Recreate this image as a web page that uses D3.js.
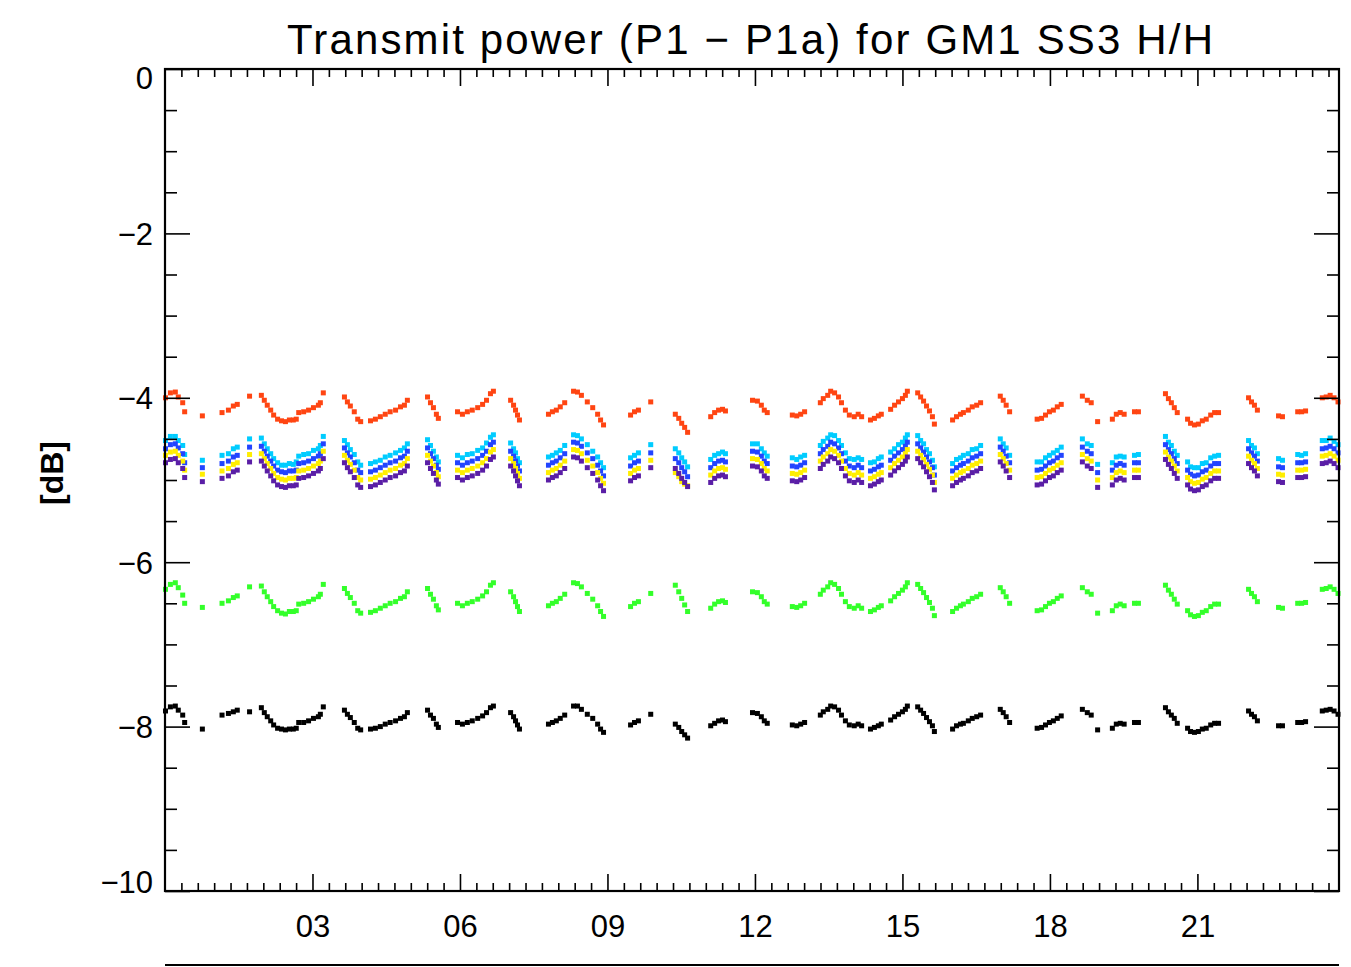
<!DOCTYPE html>
<html><head><meta charset="utf-8">
<script src="https://cdn.jsdelivr.net/npm/d3@7"></script>
<style>body{margin:0;background:#fff;overflow:hidden}</style>
</head><body><svg id="c" width="1351" height="967"></svg>
<script>
// time of day, hours
const hours = [
0.01,0.11,0.21,0.27,0.36,0.40,0.76,1.16,1.29,1.39,
1.47,1.72,1.96,2.02,2.08,2.15,2.21,2.29,2.37,2.45,
2.53,2.61,2.67,2.72,2.82,2.92,3.02,3.12,3.16,3.22,
3.65,3.71,3.77,3.85,3.92,3.98,4.18,4.28,4.38,4.48,
4.58,4.69,4.79,4.87,4.93,5.34,5.40,5.46,5.52,5.56,
5.95,6.05,6.15,6.25,6.36,6.46,6.54,6.62,6.68,7.03,
7.09,7.13,7.17,7.21,7.80,7.88,7.96,8.04,8.13,8.31,
8.39,8.47,8.59,8.70,8.80,8.86,8.92,9.47,9.55,9.63,
9.88,10.38,10.45,10.51,10.57,10.63,11.10,11.18,11.26,11.34,
11.40,11.95,12.05,12.13,12.19,12.25,12.76,12.85,12.93,13.01,
13.33,13.39,13.48,13.54,13.62,13.70,13.76,13.84,13.92,14.02,
14.10,14.17,14.35,14.43,14.51,14.57,14.76,14.84,14.92,15.00,
15.06,15.10,15.31,15.37,15.43,15.49,15.55,15.61,15.65,16.02,
16.10,16.18,16.24,16.34,16.42,16.51,16.59,16.99,17.05,17.11,
17.18,17.74,17.83,17.91,17.99,18.07,18.15,18.23,18.66,18.76,
18.84,18.97,19.27,19.35,19.43,19.51,19.72,19.80,20.35,20.41,
20.47,20.53,20.59,20.80,20.86,20.94,21.02,21.10,21.18,21.27,
21.35,21.43,22.04,22.10,22.16,22.22,22.65,22.73,23.04,23.12,
23.20,23.54,23.62,23.70,23.78,23.86];

const redValues = [
-4.00,-3.94,-3.93,-3.99,-4.06,-4.17,-4.22,-4.18,-4.15,-4.10,
-4.08,-3.98,-3.97,-4.03,-4.09,-4.15,-4.21,-4.26,-4.28,-4.29,
-4.27,-4.27,-4.26,-4.18,-4.17,-4.15,-4.12,-4.09,-4.06,-3.94,
-3.99,-4.05,-4.10,-4.17,-4.26,-4.29,-4.28,-4.26,-4.23,-4.20,
-4.17,-4.15,-4.11,-4.09,-4.03,-3.99,-4.06,-4.12,-4.20,-4.25,
-4.17,-4.20,-4.17,-4.15,-4.12,-4.08,-4.03,-3.95,-3.92,-4.03,
-4.09,-4.15,-4.21,-4.27,-4.20,-4.17,-4.15,-4.11,-4.06,-3.92,
-3.93,-3.97,-4.05,-4.12,-4.20,-4.27,-4.33,-4.21,-4.17,-4.15,
-4.05,-4.20,-4.25,-4.31,-4.36,-4.42,-4.23,-4.18,-4.15,-4.14,
-4.16,-4.03,-4.04,-4.09,-4.15,-4.18,-4.21,-4.22,-4.20,-4.17,
-4.06,-4.01,-3.97,-3.92,-3.94,-3.99,-4.06,-4.15,-4.21,-4.23,
-4.20,-4.23,-4.27,-4.25,-4.22,-4.20,-4.14,-4.09,-4.05,-4.01,
-3.97,-3.92,-3.94,-3.99,-4.04,-4.10,-4.16,-4.23,-4.32,-4.27,
-4.23,-4.20,-4.18,-4.15,-4.11,-4.09,-4.06,-3.98,-4.03,-4.09,
-4.17,-4.26,-4.25,-4.21,-4.17,-4.15,-4.11,-4.08,-3.98,-4.03,
-4.06,-4.29,-4.26,-4.20,-4.18,-4.20,-4.17,-4.17,-3.95,-4.01,
-4.06,-4.12,-4.18,-4.26,-4.31,-4.33,-4.32,-4.28,-4.26,-4.21,
-4.18,-4.18,-4.00,-4.05,-4.09,-4.15,-4.22,-4.23,-4.17,-4.17,
-4.16,-4.00,-3.99,-3.97,-4.00,-4.05];

const cyanValues = [
-4.52,-4.47,-4.47,-4.52,-4.58,-4.69,-4.76,-4.70,-4.68,-4.62,
-4.60,-4.50,-4.49,-4.56,-4.62,-4.68,-4.74,-4.79,-4.82,-4.82,
-4.80,-4.81,-4.78,-4.71,-4.69,-4.68,-4.64,-4.62,-4.58,-4.47,
-4.52,-4.57,-4.63,-4.69,-4.78,-4.82,-4.80,-4.78,-4.76,-4.72,
-4.70,-4.67,-4.64,-4.61,-4.56,-4.51,-4.58,-4.65,-4.72,-4.78,
-4.70,-4.73,-4.69,-4.68,-4.64,-4.61,-4.55,-4.48,-4.45,-4.55,
-4.62,-4.67,-4.74,-4.79,-4.72,-4.70,-4.67,-4.64,-4.58,-4.45,
-4.46,-4.50,-4.57,-4.65,-4.72,-4.79,-4.85,-4.73,-4.70,-4.67,
-4.57,-4.62,-4.67,-4.73,-4.78,-4.84,-4.75,-4.70,-4.68,-4.66,
-4.68,-4.56,-4.56,-4.62,-4.67,-4.71,-4.73,-4.75,-4.72,-4.70,
-4.58,-4.53,-4.49,-4.45,-4.46,-4.52,-4.58,-4.67,-4.74,-4.75,
-4.73,-4.75,-4.79,-4.78,-4.74,-4.72,-4.66,-4.62,-4.57,-4.54,
-4.49,-4.45,-4.46,-4.52,-4.56,-4.63,-4.68,-4.76,-4.84,-4.80,
-4.75,-4.73,-4.70,-4.68,-4.63,-4.62,-4.58,-4.50,-4.56,-4.61,
-4.70,-4.78,-4.78,-4.73,-4.70,-4.67,-4.64,-4.60,-4.50,-4.56,
-4.58,-4.81,-4.79,-4.72,-4.71,-4.72,-4.70,-4.69,-4.47,-4.54,
-4.58,-4.65,-4.70,-4.78,-4.84,-4.85,-4.85,-4.80,-4.79,-4.73,
-4.71,-4.70,-4.52,-4.58,-4.61,-4.68,-4.74,-4.76,-4.69,-4.70,
-4.68,-4.52,-4.52,-4.49,-4.53,-4.57];

const blueValues = [
-4.62,-4.57,-4.56,-4.61,-4.68,-4.79,-4.85,-4.80,-4.77,-4.72,
-4.70,-4.60,-4.59,-4.65,-4.71,-4.77,-4.83,-4.88,-4.90,-4.91,
-4.89,-4.89,-4.88,-4.80,-4.79,-4.77,-4.74,-4.71,-4.68,-4.56,
-4.61,-4.67,-4.72,-4.79,-4.88,-4.91,-4.90,-4.88,-4.85,-4.82,
-4.79,-4.77,-4.73,-4.71,-4.65,-4.61,-4.68,-4.74,-4.82,-4.87,
-4.79,-4.82,-4.79,-4.77,-4.74,-4.70,-4.65,-4.57,-4.54,-4.65,
-4.71,-4.77,-4.83,-4.89,-4.82,-4.79,-4.77,-4.73,-4.68,-4.54,
-4.55,-4.59,-4.67,-4.74,-4.82,-4.89,-4.95,-4.83,-4.79,-4.77,
-4.67,-4.74,-4.79,-4.85,-4.90,-4.96,-4.85,-4.80,-4.77,-4.76,
-4.78,-4.65,-4.66,-4.71,-4.77,-4.80,-4.83,-4.84,-4.82,-4.79,
-4.68,-4.63,-4.59,-4.54,-4.56,-4.61,-4.68,-4.77,-4.83,-4.85,
-4.82,-4.85,-4.89,-4.87,-4.84,-4.82,-4.76,-4.71,-4.67,-4.63,
-4.59,-4.54,-4.56,-4.61,-4.66,-4.72,-4.78,-4.85,-4.94,-4.89,
-4.85,-4.82,-4.80,-4.77,-4.73,-4.71,-4.68,-4.60,-4.65,-4.71,
-4.79,-4.88,-4.87,-4.83,-4.79,-4.77,-4.73,-4.70,-4.60,-4.65,
-4.68,-4.91,-4.88,-4.82,-4.80,-4.82,-4.79,-4.79,-4.57,-4.63,
-4.68,-4.74,-4.80,-4.88,-4.93,-4.95,-4.94,-4.90,-4.88,-4.83,
-4.80,-4.80,-4.62,-4.67,-4.71,-4.77,-4.84,-4.85,-4.79,-4.79,
-4.78,-4.62,-4.61,-4.59,-4.62,-4.67];

const yellowValues = [
-4.70,-4.66,-4.65,-4.70,-4.77,-4.88,-4.93,-4.89,-4.86,-4.81,
-4.79,-4.69,-4.68,-4.74,-4.80,-4.86,-4.92,-4.97,-4.99,-5.00,
-4.98,-4.98,-4.97,-4.89,-4.88,-4.86,-4.83,-4.80,-4.77,-4.65,
-4.70,-4.76,-4.81,-4.88,-4.97,-5.00,-4.99,-4.97,-4.94,-4.91,
-4.88,-4.86,-4.82,-4.80,-4.74,-4.70,-4.77,-4.83,-4.91,-4.96,
-4.88,-4.91,-4.88,-4.86,-4.83,-4.79,-4.74,-4.66,-4.63,-4.74,
-4.80,-4.86,-4.92,-4.98,-4.91,-4.88,-4.86,-4.82,-4.77,-4.63,
-4.64,-4.68,-4.76,-4.83,-4.91,-4.98,-5.04,-4.92,-4.88,-4.86,
-4.76,-4.91,-4.96,-5.02,-5.05,-5.07,-4.94,-4.89,-4.86,-4.85,
-4.87,-4.74,-4.75,-4.80,-4.86,-4.89,-4.92,-4.93,-4.91,-4.88,
-4.77,-4.72,-4.68,-4.63,-4.65,-4.70,-4.77,-4.86,-4.92,-4.94,
-4.91,-4.94,-4.98,-4.96,-4.93,-4.91,-4.85,-4.80,-4.76,-4.72,
-4.68,-4.63,-4.65,-4.70,-4.75,-4.81,-4.87,-4.94,-5.03,-4.98,
-4.94,-4.91,-4.89,-4.86,-4.82,-4.80,-4.77,-4.69,-4.74,-4.80,
-4.88,-4.97,-4.96,-4.92,-4.88,-4.86,-4.82,-4.79,-4.69,-4.74,
-4.77,-5.00,-4.97,-4.91,-4.89,-4.91,-4.88,-4.88,-4.66,-4.72,
-4.77,-4.83,-4.89,-4.97,-5.02,-5.04,-5.03,-4.99,-4.97,-4.92,
-4.89,-4.89,-4.71,-4.76,-4.80,-4.86,-4.93,-4.94,-4.88,-4.88,
-4.87,-4.71,-4.70,-4.68,-4.71,-4.76];

const purpleValues = [
-4.79,-4.75,-4.74,-4.79,-4.86,-4.97,-5.02,-4.98,-4.95,-4.90,
-4.88,-4.78,-4.77,-4.83,-4.89,-4.95,-5.01,-5.06,-5.08,-5.09,
-5.07,-5.07,-5.06,-4.98,-4.97,-4.95,-4.92,-4.89,-4.86,-4.74,
-4.79,-4.85,-4.90,-4.97,-5.06,-5.09,-5.08,-5.06,-5.03,-5.00,
-4.97,-4.95,-4.91,-4.89,-4.83,-4.79,-4.86,-4.92,-5.00,-5.05,
-4.97,-5.00,-4.97,-4.95,-4.92,-4.88,-4.83,-4.75,-4.72,-4.83,
-4.89,-4.95,-5.01,-5.07,-5.00,-4.97,-4.95,-4.91,-4.86,-4.72,
-4.73,-4.77,-4.85,-4.92,-5.00,-5.07,-5.13,-5.01,-4.97,-4.95,
-4.85,-4.86,-4.92,-4.98,-5.03,-5.08,-5.03,-4.98,-4.95,-4.94,
-4.96,-4.83,-4.84,-4.89,-4.95,-4.98,-5.01,-5.02,-5.00,-4.97,
-4.86,-4.81,-4.77,-4.72,-4.74,-4.79,-4.86,-4.95,-5.01,-5.03,
-5.00,-5.03,-5.07,-5.05,-5.02,-5.00,-4.94,-4.89,-4.85,-4.81,
-4.77,-4.72,-4.74,-4.79,-4.84,-4.90,-4.96,-5.03,-5.12,-5.07,
-5.03,-5.00,-4.98,-4.95,-4.91,-4.89,-4.86,-4.78,-4.83,-4.89,
-4.97,-5.06,-5.05,-5.01,-4.97,-4.95,-4.91,-4.88,-4.78,-4.83,
-4.86,-5.09,-5.06,-5.00,-4.98,-5.00,-4.97,-4.97,-4.75,-4.81,
-4.86,-4.92,-4.98,-5.06,-5.11,-5.13,-5.12,-5.08,-5.06,-5.01,
-4.98,-4.98,-4.80,-4.85,-4.89,-4.95,-5.02,-5.03,-4.97,-4.97,
-4.96,-4.80,-4.79,-4.77,-4.80,-4.85];

const greenValues = [
-6.33,-6.27,-6.25,-6.31,-6.40,-6.50,-6.55,-6.50,-6.47,-6.43,
-6.41,-6.30,-6.29,-6.36,-6.42,-6.48,-6.54,-6.59,-6.62,-6.63,
-6.60,-6.60,-6.59,-6.51,-6.50,-6.48,-6.45,-6.42,-6.39,-6.27,
-6.32,-6.38,-6.43,-6.50,-6.59,-6.62,-6.61,-6.59,-6.56,-6.53,
-6.50,-6.48,-6.44,-6.42,-6.36,-6.32,-6.39,-6.45,-6.53,-6.58,
-6.50,-6.53,-6.50,-6.48,-6.45,-6.41,-6.36,-6.28,-6.25,-6.36,
-6.42,-6.48,-6.54,-6.60,-6.53,-6.50,-6.48,-6.44,-6.39,-6.25,
-6.26,-6.30,-6.38,-6.45,-6.53,-6.60,-6.66,-6.54,-6.50,-6.48,
-6.38,-6.28,-6.36,-6.44,-6.52,-6.60,-6.56,-6.51,-6.48,-6.47,
-6.49,-6.36,-6.37,-6.42,-6.48,-6.51,-6.54,-6.55,-6.53,-6.50,
-6.39,-6.34,-6.30,-6.25,-6.27,-6.32,-6.39,-6.48,-6.54,-6.56,
-6.53,-6.56,-6.60,-6.58,-6.55,-6.53,-6.47,-6.42,-6.38,-6.34,
-6.30,-6.25,-6.27,-6.32,-6.37,-6.43,-6.49,-6.56,-6.65,-6.60,
-6.56,-6.53,-6.51,-6.48,-6.44,-6.42,-6.39,-6.31,-6.36,-6.42,
-6.50,-6.59,-6.58,-6.54,-6.50,-6.48,-6.44,-6.41,-6.31,-6.36,
-6.39,-6.62,-6.59,-6.53,-6.51,-6.53,-6.50,-6.50,-6.28,-6.34,
-6.39,-6.45,-6.51,-6.59,-6.64,-6.66,-6.65,-6.61,-6.59,-6.54,
-6.51,-6.51,-6.33,-6.38,-6.42,-6.48,-6.55,-6.56,-6.50,-6.50,
-6.49,-6.33,-6.32,-6.30,-6.33,-6.38];

const blackValues = [
-7.81,-7.76,-7.75,-7.80,-7.86,-7.95,-8.03,-7.86,-7.84,-7.82,
-7.80,-7.82,-7.77,-7.83,-7.88,-7.93,-7.98,-8.02,-8.03,-8.04,
-8.03,-8.03,-8.02,-7.95,-7.95,-7.93,-7.90,-7.88,-7.85,-7.76,
-7.80,-7.85,-7.89,-7.95,-8.02,-8.04,-8.03,-8.02,-8.00,-7.97,
-7.95,-7.93,-7.90,-7.88,-7.83,-7.80,-7.86,-7.90,-7.97,-8.01,
-7.95,-7.97,-7.95,-7.93,-7.90,-7.87,-7.83,-7.77,-7.75,-7.83,
-7.88,-7.93,-7.98,-8.03,-7.97,-7.95,-7.93,-7.90,-7.86,-7.75,
-7.75,-7.79,-7.85,-7.90,-7.97,-8.03,-8.07,-7.98,-7.95,-7.93,
-7.85,-7.97,-8.01,-8.06,-8.10,-8.14,-7.99,-7.96,-7.93,-7.92,
-7.94,-7.83,-7.84,-7.88,-7.93,-7.96,-7.98,-7.99,-7.97,-7.95,
-7.86,-7.82,-7.79,-7.75,-7.76,-7.80,-7.86,-7.93,-7.98,-7.99,
-7.97,-7.99,-8.03,-8.01,-7.99,-7.97,-7.92,-7.88,-7.85,-7.82,
-7.79,-7.75,-7.76,-7.80,-7.84,-7.89,-7.94,-7.99,-8.06,-8.03,
-7.99,-7.97,-7.96,-7.93,-7.90,-7.88,-7.86,-7.79,-7.83,-7.88,
-7.95,-8.02,-8.01,-7.98,-7.95,-7.93,-7.90,-7.87,-7.79,-7.83,
-7.86,-8.04,-8.02,-7.97,-7.96,-7.97,-7.95,-7.95,-7.77,-7.82,
-7.86,-7.90,-7.96,-8.02,-8.06,-8.07,-8.06,-8.03,-8.02,-7.98,
-7.96,-7.96,-7.81,-7.85,-7.88,-7.93,-7.99,-7.99,-7.95,-7.95,
-7.94,-7.81,-7.80,-7.79,-7.81,-7.85];

const seriesList = [
  {name: "red", values: redValues, color: "#ff4512"},
  {name: "cyan", values: cyanValues, color: "#00ccff"},
  {name: "blue", values: blueValues, color: "#2244ff"},
  {name: "yellow", values: yellowValues, color: "#ffee00"},
  {name: "purple", values: purpleValues, color: "#5a1ea6"},
  {name: "green", values: greenValues, color: "#33ff2a"},
  {name: "black", values: blackValues, color: "#000000"}
];

const yMajorTicks = [0, -2, -4, -6, -8, -10];
const yTickLabels = ["0", "\u22122", "\u22124", "\u22126", "\u22128", "\u221210"];
const xMajorTicks = [3, 6, 9, 12, 15, 18, 21];
const xTickLabels = ["03", "06", "09", "12", "15", "18", "21"];
const titleText = "Transmit power (P1 \u2212 P1a) for GM1 SS3 H/H";
const yTitleText = "[dB]";

const svg = d3.select("#c");
const L = 165, R = 1339, T = 69, B = 891;
const x = d3.scaleLinear().domain([0, 23.88]).range([L, R]);
const y = d3.scaleLinear().domain([-10, 0]).range([B, T]);

const xMinor = d3.range(1, 72).map(i => i / 3).filter(v => v < 23.88 && Math.abs(v / 3 - Math.round(v / 3)) > 1e-6);
const yMinor = d3.range(-19, 0).map(i => i * 0.5).filter(v => Math.abs(v / 2 - Math.round(v / 2)) > 1e-6);

const font = "'Liberation Sans', Arial, sans-serif";

// points
const gPts = svg.append("g");
seriesList.forEach(s => {
  gPts.append("g").selectAll("rect")
    .data(hours.map((h, i) => [h, s.values[i]]))
    .join("rect")
    .attr("x", d => x(d[0]) - 2.5)
    .attr("y", d => y(d[1]) - 2.5)
    .attr("width", 5).attr("height", 5)
    .attr("fill", s.color);
});

function styleAxis(g) {
  g.select(".domain").remove();
  g.selectAll(".tick line").attr("stroke", "#000").attr("stroke-width", 1.6);
  g.selectAll("text").attr("font-family", font).attr("font-size", 31).attr("fill", "#000");
}

// bottom
svg.append("g").attr("transform", `translate(0,${B})`)
  .call(d3.axisBottom(x).tickValues(xMajorTicks).tickSize(-17).tickPadding(24)
    .tickFormat((d, i) => xTickLabels[i]))
  .call(styleAxis);
svg.append("g").attr("transform", `translate(0,${B})`)
  .call(d3.axisBottom(x).tickValues(xMinor).tickSize(-8).tickFormat(""))
  .call(styleAxis);
// top
svg.append("g").attr("transform", `translate(0,${T})`)
  .call(d3.axisTop(x).tickValues(xMajorTicks).tickSize(-17).tickFormat(""))
  .call(styleAxis);
svg.append("g").attr("transform", `translate(0,${T})`)
  .call(d3.axisTop(x).tickValues(xMinor).tickSize(-8).tickFormat(""))
  .call(styleAxis);
// left
const gl = svg.append("g").attr("transform", `translate(${L},0)`)
  .call(d3.axisLeft(y).tickValues(yMajorTicks).tickSize(-25).tickPadding(12)
    .tickFormat((d, i) => yTickLabels[i]))
  .call(styleAxis);
gl.selectAll(".tick text").attr("dy", (d) => d === 0 ? "0.62em" : (d === -10 ? "0.05em" : "0.35em"));
svg.append("g").attr("transform", `translate(${L},0)`)
  .call(d3.axisLeft(y).tickValues(yMinor).tickSize(-12).tickFormat(""))
  .call(styleAxis);
// right
svg.append("g").attr("transform", `translate(${R},0)`)
  .call(d3.axisRight(y).tickValues(yMajorTicks).tickSize(-25).tickFormat(""))
  .call(styleAxis);
svg.append("g").attr("transform", `translate(${R},0)`)
  .call(d3.axisRight(y).tickValues(yMinor).tickSize(-12).tickFormat(""))
  .call(styleAxis);

// frame
svg.append("rect").attr("x", L).attr("y", T).attr("width", R - L).attr("height", B - T)
  .attr("fill", "none").attr("stroke", "#000").attr("stroke-width", 2.2);

// line below (next panel edge)
svg.append("line").attr("x1", L).attr("x2", R).attr("y1", 965).attr("y2", 965)
  .attr("stroke", "#000").attr("stroke-width", 2.2);

// title
svg.append("text").attr("x", (L + R) / 2 - 2).attr("y", 54)
  .attr("text-anchor", "middle").attr("font-family", font).attr("font-size", 42)
  .attr("textLength", 926).attr("lengthAdjust", "spacing")
  .text(titleText);

// y title
svg.append("text").attr("transform", "translate(63,473) rotate(-90)")
  .attr("text-anchor", "middle").attr("font-family", font).attr("font-size", 32)
  .attr("font-weight", "bold").text(yTitleText);
</script>
</body></html>
